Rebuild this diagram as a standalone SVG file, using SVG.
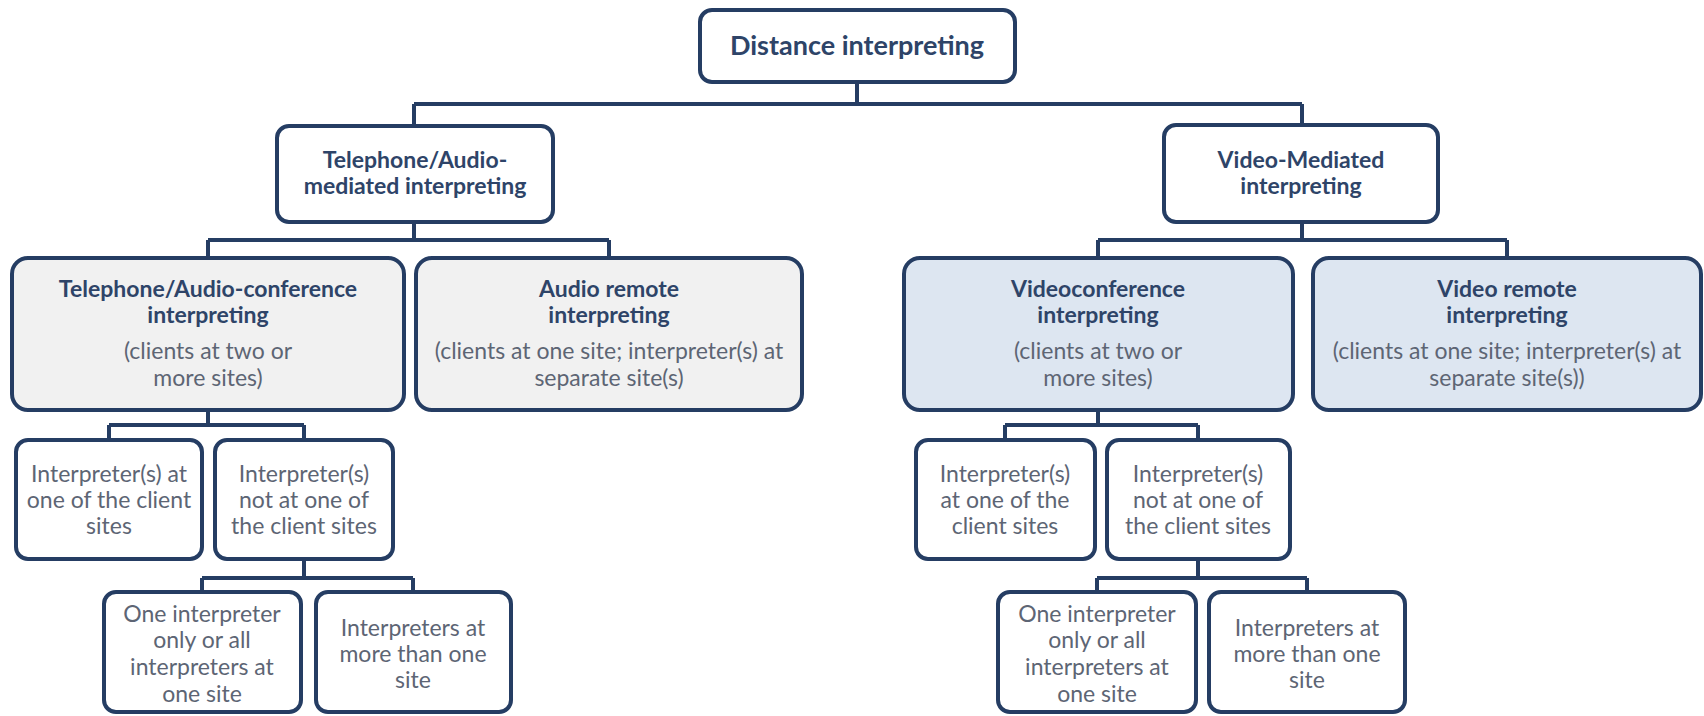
<svg xmlns="http://www.w3.org/2000/svg" width="1704" height="716" viewBox="0 0 1704 716">
<style>
.box{fill:#ffffff;stroke:#253d63;stroke-width:4}
.gray{fill:#f1f1f1}
.blue{fill:#dde6f1}
.conn{fill:none;stroke:#253d63;stroke-width:4}
text{font-family:Lato,"Open Sans","Liberation Sans",sans-serif;text-anchor:middle}
.b{font-weight:bold;fill:#2e4468;font-size:23px}
.r{fill:#5d6574;font-size:23px}
.root{font-size:27px}
</style>
<rect width="1704" height="716" fill="#ffffff"/>
<g id="connectors">
<path class="conn" d="M857 82 V104 M414 104 H1302 M414 104 V125 M1302 104 V125"/>
<path class="conn" d="M414 222 V240 M208 240 H609 M208 240 V258 M609 240 V258"/>
<path class="conn" d="M1302 222 V240 M1098 240 H1507 M1098 240 V258 M1507 240 V258"/>
<path class="conn" d="M208 410 V425 M109 425 H304 M109 425 V440 M304 425 V440"/>
<path class="conn" d="M304 559 V578 M202 578 H413 M202 578 V592 M413 578 V592"/>
<path class="conn" d="M1098 410 V425 M1005 425 H1198 M1005 425 V440 M1198 425 V440"/>
<path class="conn" d="M1198 559 V578 M1097 578 H1307 M1097 578 V592 M1307 578 V592"/>
</g>
<g id="root">
<rect class="box" x="700" y="10" width="315" height="72" rx="12"/>
<text class="b root" x="857" y="55">Distance interpreting</text>
</g>
<g id="audio-mediated">
<rect class="box" x="277" y="126" width="276" height="96" rx="12"/>
<text class="b" x="415" y="168">Telephone/Audio-</text>
<text class="b" x="415" y="194">mediated interpreting</text>
</g>
<g id="video-mediated">
<rect class="box" x="1164" y="125" width="274" height="97" rx="12"/>
<text class="b" x="1301" y="168">Video-Mediated</text>
<text class="b" x="1301" y="194">interpreting</text>
</g>
<g id="audio-conference">
<rect class="box gray" x="12" y="258" width="392" height="152" rx="16"/>
<text class="b" x="208" y="297">Telephone/Audio-conference</text>
<text class="b" x="208" y="323">interpreting</text>
<text class="r" x="208" y="359">(clients at two or</text>
<text class="r" x="208" y="386">more sites)</text>
</g>
<g id="audio-remote">
<rect class="box gray" x="416" y="258" width="386" height="152" rx="16"/>
<text class="b" x="609" y="297">Audio remote</text>
<text class="b" x="609" y="323">interpreting</text>
<text class="r" x="609" y="359">(clients at one site; interpreter(s) at</text>
<text class="r" x="609" y="386">separate site(s)</text>
</g>
<g id="videoconference">
<rect class="box blue" x="904" y="258" width="389" height="152" rx="16"/>
<text class="b" x="1098" y="297">Videoconference</text>
<text class="b" x="1098" y="323">interpreting</text>
<text class="r" x="1098" y="359">(clients at two or</text>
<text class="r" x="1098" y="386">more sites)</text>
</g>
<g id="video-remote">
<rect class="box blue" x="1313" y="258" width="388" height="152" rx="16"/>
<text class="b" x="1507" y="297">Video remote</text>
<text class="b" x="1507" y="323">interpreting</text>
<text class="r" x="1507" y="359">(clients at one site; interpreter(s) at</text>
<text class="r" x="1507" y="386">separate site(s))</text>
</g>
<g id="a-at-client">
<rect class="box" x="16" y="440" width="186" height="119" rx="12"/>
<text class="r" x="109" y="482">Interpreter(s) at</text>
<text class="r" x="109" y="508">one of the client</text>
<text class="r" x="109" y="534">sites</text>
</g>
<g id="a-not-at-client">
<rect class="box" x="215" y="440" width="178" height="119" rx="12"/>
<text class="r" x="304" y="482">Interpreter(s)</text>
<text class="r" x="304" y="508">not at one of</text>
<text class="r" x="304" y="534">the client sites</text>
</g>
<g id="a-one-site">
<rect class="box" x="104" y="592" width="197" height="120" rx="12"/>
<text class="r" x="202" y="622">One interpreter</text>
<text class="r" x="202" y="648">only or all</text>
<text class="r" x="202" y="675">interpreters at</text>
<text class="r" x="202" y="702">one site</text>
</g>
<g id="a-multi-site">
<rect class="box" x="316" y="592" width="195" height="120" rx="12"/>
<text class="r" x="413" y="636">Interpreters at</text>
<text class="r" x="413" y="662">more than one</text>
<text class="r" x="413" y="688">site</text>
</g>
<g id="v-at-client">
<rect class="box" x="916" y="440" width="179" height="119" rx="12"/>
<text class="r" x="1005" y="482">Interpreter(s)</text>
<text class="r" x="1005" y="508">at one of the</text>
<text class="r" x="1005" y="534">client sites</text>
</g>
<g id="v-not-at-client">
<rect class="box" x="1107" y="440" width="183" height="119" rx="12"/>
<text class="r" x="1198" y="482">Interpreter(s)</text>
<text class="r" x="1198" y="508">not at one of</text>
<text class="r" x="1198" y="534">the client sites</text>
</g>
<g id="v-one-site">
<rect class="box" x="998" y="592" width="198" height="120" rx="12"/>
<text class="r" x="1097" y="622">One interpreter</text>
<text class="r" x="1097" y="648">only or all</text>
<text class="r" x="1097" y="675">interpreters at</text>
<text class="r" x="1097" y="702">one site</text>
</g>
<g id="v-multi-site">
<rect class="box" x="1209" y="592" width="196" height="120" rx="12"/>
<text class="r" x="1307" y="636">Interpreters at</text>
<text class="r" x="1307" y="662">more than one</text>
<text class="r" x="1307" y="688">site</text>
</g>
</svg>
